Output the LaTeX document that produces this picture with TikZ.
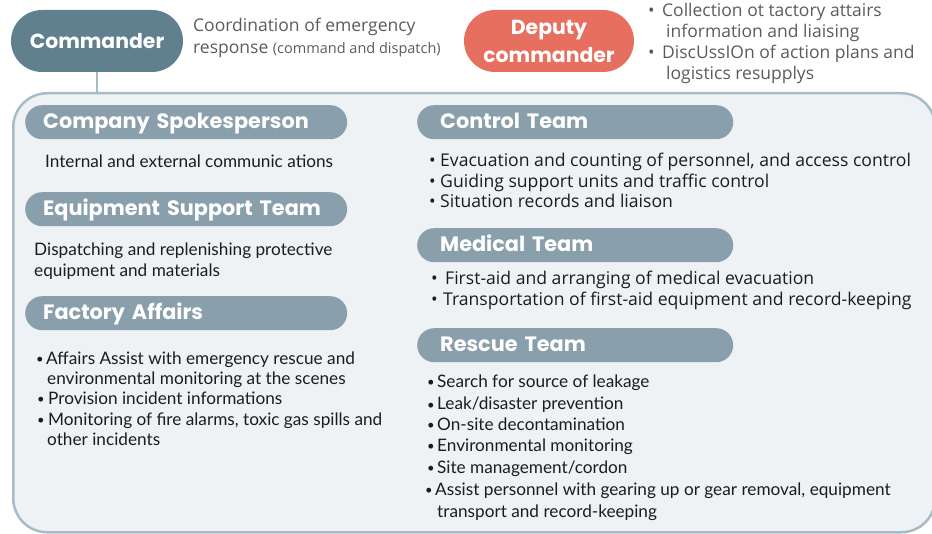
\documentclass[tikz,border=0pt]{standalone}
\usepackage{fontspec}
\setmainfont{Open Sans}
\newfontfamily\gill{Lato}
\newfontfamily\headf{Poppins}
\definecolor{cmdc}{HTML}{60808E}
\definecolor{depc}{HTML}{E66F60}
\definecolor{pillc}{HTML}{899FAB}
\definecolor{boxfill}{HTML}{EEF2F5}
\definecolor{boxline}{HTML}{A8BCC6}
\definecolor{greyt}{HTML}{5B5B5B}
\definecolor{bodyt}{HTML}{1C1C1C}
\newcommand\myb[1]{\makebox[#1][l]{•}}
\newcommand\myg[1]{\makebox[#1][l]{\raisebox{1pt}{\fontsize{13}{13}\selectfont •}}}
\tikzset{
  bigbox/.style={draw=boxline, line width=2.5pt, fill=boxfill, rounded corners=34pt, inner sep=0pt},
  conn/.style={draw=boxline, line width=2.5pt},
  toppill/.style={rounded corners=31pt, minimum height=62pt, text=white, inner sep=0pt, align=center, font=\headf\bfseries\fontsize{20.4}{28}\selectfont},
  pillL/.style={fill=pillc, rounded corners=17pt, minimum height=34pt, inner ysep=0pt, inner xsep=18pt, text width=286pt, text height=14.3pt, text depth=2.3pt, align=left, anchor=north west, text=white, font=\headf\bfseries\fontsize{20.8}{22}\selectfont},
  pillR/.style={pillL, inner xsep=23pt, text width=270pt},
  desc/.style={anchor=base west, inner sep=0pt, text=greyt, font=\fontsize{17.5}{20}\selectfont},
  gtxt/.style={anchor=base west, inner sep=0pt, text=bodyt, font=\gill\fontsize{17.2}{20}\selectfont},
  ptxt/.style={anchor=base west, inner sep=0pt, text=bodyt, font=\fontsize{17.6}{20}\selectfont},
}
\begin{document}
\begin{tikzpicture}[x=1pt,y=-1pt]
\useasboundingbox (0,0) rectangle (932,534);
% big box
\node[bigbox, anchor=north west, minimum width=922pt, minimum height=439pt] (box) at (12,92) {};
% commander & deputy
\node[toppill, fill=cmdc, minimum width=172pt] (cmd) at (97,41) {Commander};
\draw[conn] (cmd.south) -- (cmd.south |- box.north);
\node[toppill, fill=depc, minimum width=170pt] (dep) at (549,41) {Deputy\\commander};
% commander description
\node[desc] (cd1) at (193,32) {Coordination of emergency};
\node[desc] (cd2) at (193,54) {response {\fontsize{14.5}{16}\selectfont (command and dispatch)}};
% deputy bullets
\node[desc] (dd1) at (648,17) {\myb{14pt}Collection ot tactory attairs};
\node[desc] (dd2) at (666,38) {information and liaising};
\node[desc] (dd3) at (648,59) {\myb{14pt}DiscUssIOn of action plans and};
\node[desc] (dd4) at (666,80) {logistics resupplys};
% left column
\node[pillL] (cs) at (25,105) {Company Spokesperson};
\node[gtxt] (cs1) at (45,168) {Internal and external communic ations};
\node[pillL] (est) at (25,192) {Equipment Support Team};
\node[gtxt] (est1) at (34,256) {Dispatching and replenishing protective};
\node[gtxt] (est2) at (34,277) {equipment and materials};
\node[pillL] (fa) at (25,296) {Factory Affairs};
\node[gtxt] (fa1) at (36,365) {\myg{10pt}Affairs Assist with emergency rescue and};
\node[gtxt] (fa2) at (47,385) {environmental monitoring at the scenes};
\node[gtxt] (fa3) at (37,405) {\myg{11pt}Provision incident informations};
\node[gtxt] (fa4) at (37,426) {\myg{11pt}Monitoring of fire alarms, toxic gas spills and};
\node[gtxt] (fa5) at (47,446) {other incidents};
% right column
\node[pillR] (ct) at (417,105) {Control Team};
\node[ptxt] (ct1) at (429,167) {\myb{11pt}Evacuation and counting of personnel, and access control};
\node[ptxt] (ct2) at (429,188) {\myb{11pt}Guiding support units and traffic control};
\node[ptxt] (ct3) at (429,208) {\myb{11pt}Situation records and liaison};
\node[pillR] (mt) at (417,228) {Medical Team};
\node[ptxt] (mt1) at (431,285) {\myb{14pt}First-aid and arranging of medical evacuation};
\node[ptxt] (mt2) at (431,306) {\myb{12pt}Transportation of first-aid equipment and record-keeping};
\node[pillR] (rt) at (417,328) {Rescue Team};
\node[gtxt] (rt1) at (427,388) {\myg{10pt}Search for source of leakage};
\node[gtxt] (rt2) at (427,410) {\myg{10pt}Leak/disaster prevention};
\node[gtxt] (rt3) at (427,431) {\myg{10pt}On-site decontamination};
\node[gtxt] (rt4) at (427,452) {\myg{10pt}Environmental monitoring};
\node[gtxt] (rt5) at (427,473) {\myg{10pt}Site management/cordon};
\node[gtxt] (rt6) at (425,495) {\myg{10pt}Assist personnel with gearing up or gear removal, equipment};
\node[gtxt] (rt7) at (437,517) {transport and record-keeping};
\end{tikzpicture}
\end{document}
